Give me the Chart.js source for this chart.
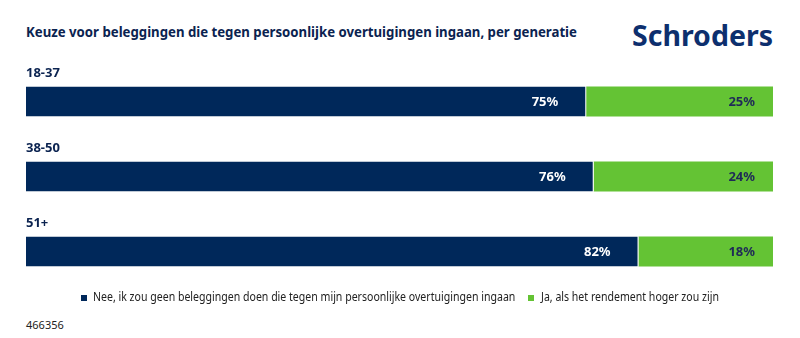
<!DOCTYPE html>
<html>
<head>
<meta charset="utf-8">
<script src="https://cdn.jsdelivr.net/npm/chart.js@4.4.1/dist/chart.umd.min.js"></script>
<style>
  html, body { margin: 0; padding: 0; background: #fff; }
  body { width: 800px; height: 338px; position: relative; overflow: hidden; font-family: "Noto Sans", sans-serif; }
  #title { position: absolute; left: 26px; top: 21px; font-size: 15px; font-weight: 700; color: #0b2350; white-space: nowrap; transform-origin: left top; transform: scaleX(0.88); }
  #logo { position: absolute; left: 632px; top: 21px; font-size: 28.5px; line-height: 28.5px; font-weight: 700; color: #0d2f6e; white-space: nowrap; }
  #code { position: absolute; left: 26px; top: 317px; font-size: 11px; color: #222; }
  #wrap { position: absolute; left: 0; top: 0; width: 800px; height: 338px; }
  .lg-box { position: absolute; width: 6px; height: 6px; top: 295px; }
  .lg-text { position: absolute; top: 291px; font-size: 12px; line-height: 12px; color: #222; white-space: nowrap; transform-origin: left top; transform: scaleX(0.88); }
</style>
</head>
<body>
<div id="title">Keuze voor beleggingen die tegen persoonlijke overtuigingen ingaan, per generatie</div>
<div id="logo">Schroders</div>
<div id="code">466356</div>
<div id="wrap"><canvas id="chart"></canvas></div>
<div id="legend"></div>
<script>
// generaties en percentages
const groups = ['18-37', '38-50', '51+'];
const nee = [75, 76, 82];
const ja = [25, 24, 18];
const seriesNames = [
  'Nee, ik zou geen beleggingen doen die tegen mijn persoonlijke overtuigingen ingaan',
  'Ja, als het rendement hoger zou zijn'
];

const navy = '#00285a';
const green = '#64c334';

// labels boven elke balk en percentages in de balken
const barText = {
  id: 'barText',
  afterDatasetsDraw(chart) {
    const ctx = chart.ctx;
    ctx.save();
    ctx.font = 'bold 13px "Noto Sans"';
    ctx.textBaseline = 'middle';
    chart.data.datasets.forEach((ds, di) => {
      const meta = chart.getDatasetMeta(di);
      meta.data.forEach((bar, i) => {
        ctx.textAlign = 'right';
        ctx.fillStyle = di === 0 ? '#ffffff' : '#1f2a57';
        const pad = di === 0 ? 28 : 18;
        ctx.fillText(ds.data[i] + '%', bar.x - pad, bar.y + 1);
      });
    });
    const meta0 = chart.getDatasetMeta(0);
    ctx.textAlign = 'left';
    ctx.fillStyle = '#0b2350';
    meta0.data.forEach((bar, i) => {
      ctx.fillText(groups[i], chart.chartArea.left, bar.y - bar.height / 2 - 13);
    });
    ctx.restore();
  }
};

const chart = new Chart(document.getElementById('chart'), {
  type: 'bar',
  data: {
    labels: groups,
    datasets: [
      { label: seriesNames[0], data: nee, backgroundColor: navy, borderColor: '#ffffff', borderWidth: { right: 1 }, borderSkipped: false },
      { label: seriesNames[1], data: ja, backgroundColor: green, borderWidth: 0 }
    ]
  },
  options: {
    indexAxis: 'y',
    responsive: true,
    maintainAspectRatio: false,
    animation: false,
    barPercentage: 0.8,
    categoryPercentage: 0.5,
    layout: { padding: { left: 26, right: 27, top: 64, bottom: 49 } },
    scales: {
      x: { stacked: true, min: 0, max: 100, display: false },
      y: { stacked: true, display: false }
    },
    plugins: {
      legend: { display: false },
      tooltip: { enabled: false }
    }
  },
  plugins: [barText]
});

// legenda onder de grafiek
const legendPos = [{ box: 81, text: 93 }, { box: 528, text: 541 }];
const legendEl = document.getElementById('legend');
chart.data.datasets.forEach((ds, i) => {
  const box = document.createElement('div');
  box.className = 'lg-box';
  box.style.left = legendPos[i].box + 'px';
  box.style.background = ds.backgroundColor;
  const txt = document.createElement('div');
  txt.className = 'lg-text';
  txt.style.left = legendPos[i].text + 'px';
  txt.textContent = ds.label;
  legendEl.appendChild(box);
  legendEl.appendChild(txt);
});
</script>
</body>
</html>
